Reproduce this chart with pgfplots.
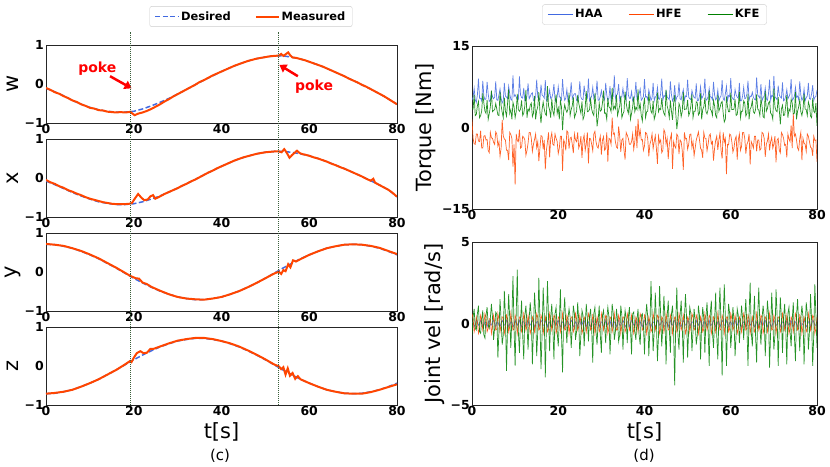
\documentclass[border=0pt]{standalone}
\usepackage{fontspec}
\setmainfont{DejaVu Sans}
\usepackage{pgfplots}
\usepackage{pgfplotstable}
\pgfplotsset{compat=1.18}
\usetikzlibrary{arrows.meta}

\definecolor{royal}{HTML}{4169E1}
\definecolor{orred}{HTML}{FF4500}
\definecolor{kgreen}{HTML}{008000}
\definecolor{vline}{HTML}{3A5F3A}

% t  HAA  HFE  KFE  (joint torque, Nm)
\pgfplotstableread{
t HAA HFE KFE
0.0 5.0 1.5 3.5
0.25 5.6 -2.0 3.4
0.5 7.2 -3.0 6.0
0.75 5.1 -3.1 2.2
1.0 4.6 -1.2 2.4
1.25 6.0 -1.2 4.0
1.5 9.0 -2.5 4.8
1.75 5.4 -2.6 1.8
2.0 5.4 -0.6 2.2
2.25 4.9 -3.8 3.0
2.5 8.6 -3.8 6.3
2.75 5.8 -1.6 4.5
3.0 5.1 -1.5 3.0
3.25 5.3 -2.3 2.6
3.5 8.4 -2.2 5.1
3.75 6.2 -4.2 1.5
4.0 4.8 -4.6 2.5
4.25 5.0 -0.9 3.8
4.5 6.5 -1.9 6.8
4.75 5.7 -2.0 2.9
5.0 5.3 -2.7 3.1
5.25 5.6 -3.1 3.3
5.5 8.5 -0.8 4.4
5.75 5.1 -1.2 3.4
6.0 5.0 -3.4 2.3
6.25 6.0 -2.6 2.2
6.5 7.1 -5.3 6.6
6.75 5.4 -3.8 4.0
7.0 4.5 1.4 2.8
7.25 4.9 -1.6 1.8
7.5 8.2 -2.1 5.5
7.75 5.8 -2.3 3.0
8.0 5.6 -4.2 2.1
8.25 5.3 -4.2 4.5
8.5 7.6 -6.0 7.0
8.75 6.2 -0.9 2.6
9.0 5.2 -1.3 3.3
9.25 5.0 -2.0 1.5
9.5 9.6 -7.2 4.6
9.75 5.7 -3.1 3.8
10.0 6.0 -10.5 1.8
10.25 5.6 -1.2 2.9
10.5 5.1 -2.4 6.2
10.75 5.1 -2.6 3.3
11.0 9.4 -0.4 3.0
11.25 6.0 -3.8 3.4
11.5 5.5 -3.6 5.0
11.75 5.4 -1.6 2.2
12.0 7.3 -1.8 2.6
12.25 4.9 -2.3 4.0
12.5 5.0 -5.1 6.9
12.75 5.8 -4.2 1.8
13.0 8.1 -2.9 3.4
13.25 5.3 -0.9 3.0
13.5 5.7 -0.9 4.1
13.75 6.2 -2.0 4.5
14.0 6.4 -4.4 2.0
14.25 5.0 -3.1 2.6
14.5 4.9 -2.2 5.8
14.75 5.7 -1.2 1.5
15.0 8.8 -3.7 3.1
15.25 5.6 -2.6 3.8
15.5 5.3 -6.2 6.5
15.75 5.1 -3.8 2.9
16.0 7.9 -1.5 0.8
16.25 6.0 -1.6 3.3
16.5 5.8 -4.0 4.7
16.75 5.4 -2.3 3.4
17.0 8.7 -7.7 2.5
17.25 4.9 -4.2 2.2
17.5 5.2 -2.6 7.6
17.75 5.8 -0.9 4.0
18.0 6.9 -5.5 3.2
18.25 5.3 -2.0 1.8
18.5 5.5 -1.0 5.3
18.75 6.2 -3.1 3.0
19.0 8.0 -3.3 2.2
19.25 5.0 -1.2 4.5
19.5 4.8 -2.0 6.1
19.75 5.7 -2.6 2.6
20.0 7.5 -4.8 3.6
20.25 5.6 -3.8 1.5
20.5 5.6 -1.6 5.0
20.75 5.1 -1.6 3.8
21.0 8.9 -8.0 -0.5
21.25 6.0 -2.3 2.9
21.5 5.0 -2.8 4.2
21.75 5.4 -4.2 3.3
22.0 7.0 -0.6 2.8
22.25 4.9 -0.9 3.4
22.5 5.4 -3.9 6.4
22.75 5.8 -2.0 2.2
23.0 8.3 -1.8 3.3
23.25 5.3 -3.1 4.0
23.5 5.9 -4.7 5.6
23.75 6.2 -1.2 1.8
24.0 6.2 -2.3 2.4
24.25 5.0 -2.6 3.0
24.5 4.9 -0.9 6.0
24.75 5.7 -3.8 4.5
25.0 8.5 -3.2 3.5
25.25 5.6 -1.6 2.6
25.5 5.2 -5.6 4.8
25.75 5.1 -2.3 1.5
26.0 7.7 -1.4 2.1
26.25 6.0 -4.2 3.8
26.5 5.7 -3.0 6.7
26.75 5.4 -0.9 2.9
27.0 9.0 -6.6 3.0
27.25 4.9 -2.0 3.3
27.5 5.3 -2.1 5.2
27.75 5.8 -3.1 3.4
28.0 7.4 -4.3 2.6
28.25 5.3 -1.2 2.2
28.5 5.8 -0.7 6.3
28.75 6.2 -2.6 4.0
29.0 8.6 -3.5 0.2
29.25 5.0 -3.8 1.8
29.5 5.1 -2.5 4.5
29.75 5.7 -1.6 3.0
30.0 6.8 -5.0 3.2
30.25 5.6 -2.3 4.5
30.5 5.6 -1.7 6.8
30.75 5.1 -4.2 2.6
31.0 8.2 -3.9 2.7
31.25 6.0 -0.9 1.5
31.5 5.0 -6.3 5.4
31.75 5.4 -2.0 3.8
32.0 7.6 -2.2 3.6
32.25 4.9 -3.1 2.9
32.5 6.1 1.8 7.3
32.75 5.8 -1.2 3.3
33.0 9.6 -1.0 3.9
33.25 5.3 -2.6 3.4
33.5 5.9 -3.6 6.0
33.75 6.2 -3.8 2.2
34.0 8.0 0.2 3.1
34.25 5.0 -1.6 4.0
34.5 5.5 -4.5 5.8
34.75 5.7 -2.3 1.8
35.0 7.2 -2.0 2.5
35.25 5.6 -4.2 3.0
35.5 6.0 -5.9 6.6
35.75 5.1 -0.9 4.5
36.0 9.1 -1.4 3.3
36.25 6.0 -2.0 2.6
36.5 5.4 -3.1 4.9
36.75 5.4 -3.1 1.5
37.0 6.6 -2.6 2.6
37.25 4.9 -1.2 3.8
37.5 5.2 -4.0 5.7
37.75 5.8 -2.6 2.9
38.0 8.4 0.3 3.7
38.25 5.3 -3.8 3.3
38.5 5.8 1.6 7.0
38.75 6.2 -1.6 3.4
39.0 7.1 -0.5 4.3
39.25 5.0 -2.3 2.2
39.5 5.3 -2.2 1.2
39.75 5.7 -4.2 4.0
40.0 8.9 -3.4 5.5
40.25 5.6 -0.9 1.8
40.5 5.7 -1.1 2.9
40.75 5.1 -2.0 3.0
41.0 6.9 -5.3 6.2
41.25 6.0 -3.1 4.5
41.5 5.0 -2.4 3.0
41.75 5.4 -1.2 2.6
42.0 8.2 -3.9 4.9
42.25 4.9 -2.6 1.5
42.5 5.6 -1.5 2.2
42.75 5.8 -3.8 3.8
43.0 7.4 -6.7 6.4
43.25 5.3 -1.6 2.9
43.5 5.2 -2.8 3.5
43.75 6.2 -2.3 3.3
44.0 9.0 -4.6 5.4
44.25 5.0 -4.2 3.4
44.5 5.9 -0.4 2.6
44.75 5.7 -0.9 2.2
45.0 6.7 -3.1 6.9
45.25 5.6 -2.0 4.0
45.5 5.4 -5.8 3.2
45.75 5.1 -3.1 1.8
46.0 8.5 -2.0 5.0
46.25 6.0 -1.2 3.0
46.5 4.9 -7.6 1.4
46.75 5.4 -2.6 4.5
47.0 7.8 -3.4 6.0
47.25 4.9 -3.8 2.6
47.5 5.6 -1.2 -0.3
47.75 5.8 -1.6 1.5
48.0 8.3 -4.9 4.4
48.25 5.3 -2.3 3.8
48.5 5.1 -2.6 2.0
48.75 6.2 -4.2 2.9
49.0 7.0 -7.8 6.5
49.25 5.0 -0.9 3.3
49.5 5.8 -2.1 3.4
49.75 5.7 -2.0 3.4
50.0 8.8 -4.0 5.1
50.25 5.6 -3.1 2.2
50.5 5.3 -1.3 2.7
50.75 5.1 -1.2 4.0
51.0 6.8 -3.7 6.1
51.25 6.0 -2.6 1.8
51.5 5.5 -5.2 3.0
51.75 5.4 -3.8 3.0
52.0 8.1 -2.3 4.7
52.25 4.9 -1.6 4.5
52.5 5.0 -0.8 2.3
52.75 5.8 -2.3 2.6
53.0 7.5 -3.8 6.3
53.25 5.3 -4.2 1.5
53.5 5.7 -5.6 3.3
53.75 6.2 -0.9 3.8
54.0 9.0 -2.0 5.5
54.25 5.0 -2.0 2.9
54.5 5.2 -4.3 2.5
54.75 5.7 -3.1 3.3
55.0 7.2 -1.5 6.8
55.25 5.6 -1.2 3.4
55.5 5.6 -3.0 3.1
55.75 5.1 -2.6 2.2
56.0 8.4 -6.1 5.0
56.25 6.0 -3.8 4.0
56.5 5.1 -2.4 2.2
56.75 5.4 -1.6 1.8
57.0 6.9 -4.1 6.0
57.25 4.9 -2.3 3.0
57.5 5.5 -1.0 3.6
57.75 5.8 -4.2 4.5
58.0 8.7 -5.7 4.8
58.25 5.3 -0.9 2.6
58.5 5.0 -2.7 1.0
58.75 6.2 -2.0 1.5
59.0 7.6 -8.6 5.7
59.25 5.0 -3.1 3.8
59.5 5.9 -3.2 2.9
59.75 5.7 -1.2 2.9
60.0 9.1 -1.4 6.4
60.25 5.6 -2.6 3.3
60.5 5.3 -4.5 3.3
60.75 5.1 -3.8 3.4
61.0 7.0 -2.2 5.2
61.25 6.0 -1.6 2.2
61.5 5.6 -5.9 2.4
61.75 5.4 -2.3 4.0
62.0 8.2 -1.2 6.6
62.25 4.9 -4.2 1.8
62.5 4.9 -3.5 3.0
62.75 5.8 -0.9 3.0
63.0 7.4 -0.9 4.9
63.25 5.3 -2.0 4.5
63.5 5.4 -4.8 2.1
63.75 6.2 -3.1 2.6
64.0 8.6 -2.6 6.2
64.25 5.0 -1.2 1.5
64.5 5.8 -6.8 3.4
64.75 5.7 -2.6 3.8
65.0 6.5 -3.1 5.0
65.25 5.6 -3.8 2.9
65.5 5.2 -1.6 2.6
65.75 5.1 -1.6 3.3
66.0 9.2 -4.4 6.1
66.25 6.0 -2.3 3.4
66.5 5.7 -2.3 3.2
66.75 5.4 -4.2 2.2
67.0 8.0 -3.9 5.3
67.25 4.9 -0.9 4.0
67.5 5.5 -1.1 2.0
67.75 5.8 -2.0 1.8
68.0 7.3 -5.4 6.7
68.25 5.3 -3.1 3.0
68.5 5.0 -2.5 3.5
68.75 6.2 -1.2 4.5
69.0 8.8 -4.2 4.8
69.25 5.0 -2.6 2.6
69.5 5.9 -1.8 2.4
69.75 5.7 -3.8 1.5
70.0 9.5 -3.0 7.2
70.25 5.6 -1.6 3.8
70.5 5.4 -6.4 3.1
70.75 5.1 -2.3 2.9
71.0 7.7 -2.0 5.6
71.25 6.0 -4.2 3.3
71.5 5.6 -4.7 0.6
71.75 5.4 -0.9 3.4
72.0 8.3 -1.3 4.1
72.25 4.9 -2.0 2.2
72.5 5.1 -3.3 2.3
72.75 5.8 -3.1 4.0
73.0 7.0 -5.5 6.0
73.25 5.3 -1.2 1.8
73.5 5.7 -2.1 3.4
73.75 6.2 -2.6 3.0
74.0 8.9 0.4 5.2
74.25 5.0 -3.8 4.5
74.5 5.3 2.6 2.5
74.75 5.7 -1.6 2.6
75.0 7.4 -1.2 6.5
75.25 5.6 -2.3 1.5
75.5 5.8 -3.8 3.0
75.75 5.1 -4.2 3.8
76.0 8.5 -2.0 5.1
76.25 6.0 -0.9 2.9
76.5 5.0 -6.0 2.2
76.75 5.4 -2.0 3.3
77.0 7.1 -2.9 6.2
77.25 4.9 -3.1 3.4
77.5 5.5 -4.4 3.3
77.75 5.8 -1.2 2.2
78.0 8.2 -1.6 4.7
78.25 5.3 -2.6 4.0
78.5 5.2 -3.6 2.1
78.75 6.2 -3.8 1.8
79.0 7.8 -5.2 5.4
79.25 5.0 -1.6 3.0
79.5 5.6 -2.4 2.7
79.75 5.7 -2.3 4.5
80.0 6.9 -6.3 0.3
}\torque

% t  HAA  HFE  KFE  (joint velocity, rad/s)
\pgfplotstableread{
t HAA HFE KFE
0.0 0.1 0.6 -0.7
0.25 0.05 0.3 0.4
0.5 -0.2 -0.5 0.9
0.75 -0.08 -0.2 -0.3
1.0 0.2 0.4 -0.4
1.25 0.12 0.1 0.6
1.5 -0.1 -0.6 1.1
1.75 -0.03 -0.35 -0.5
2.0 0.2 0.5 -0.6
2.25 0.09 0.25 0.2
2.5 -0.2 -0.4 0.8
2.75 -0.11 -0.1 -0.7
3.0 0.1 0.6 -0.9
3.25 0.02 0.4 0.5
3.5 -0.2 -0.5 1.0
3.75 0.05 -0.3 -0.1
4.0 0.2 0.3 -0.3
4.25 -0.08 0.3 0.3
4.5 -0.1 -0.6 1.2
4.75 0.12 -0.2 0.4
5.0 0.2 0.5 -1.0
5.25 -0.03 0.1 -0.3
5.5 -0.2 -0.4 0.7
5.75 0.09 -0.35 0.6
6.0 0.1 0.6 -2.1
6.25 -0.11 0.25 -0.5
6.5 -0.2 -0.5 1.5
6.75 0.02 -0.1 0.2
7.0 0.2 0.4 -1.3
7.25 0.05 0.4 -0.7
7.5 -0.1 -0.6 2.0
7.75 -0.08 -0.3 0.5
8.0 0.2 0.5 -2.9
8.25 0.12 0.3 -0.1
8.5 -0.2 -0.5 1.8
8.75 -0.03 -0.2 0.3
9.0 0.1 0.6 -1.5
9.25 0.09 0.1 0.4
9.5 -0.2 -0.4 2.9
9.75 -0.11 -0.35 -0.3
10.0 0.2 0.5 -2.6
10.25 0.02 0.25 0.6
10.5 -0.1 -0.6 3.3
10.75 0.05 -0.1 -0.5
11.0 0.2 0.4 -1.8
11.25 -0.08 0.4 0.2
11.5 -0.2 -0.5 1.4
11.75 0.12 -0.3 -0.7
12.0 0.1 0.6 -2.2
12.25 -0.03 0.3 0.5
12.5 -0.2 -0.4 1.1
12.75 0.09 -0.2 -0.1
13.0 0.2 0.5 -1.6
13.25 -0.11 0.1 0.3
13.5 -0.1 -0.6 1.3
13.75 0.02 -0.35 0.4
14.0 0.2 0.4 -2.5
14.25 0.05 0.25 -0.3
14.5 -0.2 -0.5 1.9
14.75 -0.08 -0.1 0.6
15.0 0.1 0.6 -2.0
15.25 0.12 0.4 -0.5
15.5 -0.2 -0.4 2.8
15.75 -0.03 -0.3 0.2
16.0 0.2 0.5 -2.8
16.25 0.09 0.3 -0.7
16.5 -0.1 -0.6 2.2
16.75 -0.11 -0.2 0.5
17.0 0.2 0.4 -3.3
17.25 0.02 0.1 -0.1
17.5 -0.2 -0.5 2.6
17.75 0.05 -0.35 0.3
18.0 0.1 0.6 -1.7
18.25 -0.08 0.25 0.4
18.5 -0.2 -0.4 1.2
18.75 0.12 -0.1 -0.3
19.0 0.2 0.5 -2.2
19.25 -0.03 0.4 0.6
19.5 -0.1 -0.6 1.0
19.75 0.09 -0.3 -0.5
20.0 0.2 0.4 -1.4
20.25 -0.11 0.3 0.2
20.5 -0.2 -0.5 2.1
20.75 0.02 -0.2 -0.7
21.0 0.1 0.6 -3.0
21.25 0.05 0.1 0.5
21.5 -0.2 -0.4 1.6
21.75 -0.08 -0.35 -0.1
22.0 0.2 0.5 -1.2
22.25 0.12 0.25 0.3
22.5 -0.1 -0.6 0.9
22.75 -0.03 -0.1 0.4
23.0 0.2 0.4 -1.5
23.25 0.09 0.4 -0.3
23.5 -0.2 -0.5 1.1
23.75 -0.11 -0.3 0.6
24.0 0.1 0.6 -1.0
24.25 0.02 0.3 -0.5
24.5 -0.2 -0.4 1.3
24.75 0.05 -0.2 0.2
25.0 0.2 0.5 -2.0
25.25 -0.08 0.1 -0.7
25.5 -0.1 -0.6 0.8
25.75 0.12 -0.35 0.5
26.0 0.2 0.4 -1.4
26.25 -0.03 0.25 -0.1
26.5 -0.2 -0.5 1.2
26.75 0.09 -0.1 0.3
27.0 0.1 0.6 -1.1
27.25 -0.11 0.4 0.4
27.5 -0.2 -0.4 0.9
27.75 0.02 -0.3 -0.3
28.0 0.2 0.5 -2.4
28.25 0.05 0.3 0.6
28.5 -0.1 -0.6 1.0
28.75 -0.08 -0.2 -0.5
29.0 0.2 0.4 -1.3
29.25 0.12 0.1 0.2
29.5 -0.2 -0.5 1.1
29.75 -0.03 -0.35 -0.7
30.0 0.1 0.6 -1.8
30.25 0.09 0.25 0.5
30.5 -0.2 -0.4 0.8
30.75 -0.11 -0.1 -0.1
31.0 0.2 0.5 -1.2
31.25 0.02 0.4 0.3
31.5 -0.1 -0.6 1.0
31.75 0.05 -0.3 0.4
32.0 0.2 0.4 -1.9
32.25 -0.08 0.3 -0.3
32.5 -0.2 -0.5 1.2
32.75 0.12 -0.2 0.6
33.0 0.1 0.6 -1.0
33.25 -0.03 0.1 -0.5
33.5 -0.2 -0.4 0.9
33.75 0.09 -0.35 0.2
34.0 0.2 0.5 -1.1
34.25 -0.11 0.25 -0.7
34.5 -0.1 -0.6 1.1
34.75 0.02 -0.1 0.5
35.0 0.2 0.4 -1.6
35.25 0.05 0.4 -0.1
35.5 -0.2 -0.5 0.8
35.75 -0.08 -0.3 0.3
36.0 0.1 0.6 -1.2
36.25 0.12 0.3 0.4
36.5 -0.2 -0.4 1.0
36.75 -0.03 -0.2 -0.3
37.0 0.2 0.5 -1.9
37.25 0.09 0.1 0.6
37.5 -0.1 -0.6 0.7
37.75 -0.11 -0.35 -0.5
38.0 0.2 0.4 -1.0
38.25 0.02 0.25 0.2
38.5 -0.2 -0.5 0.9
38.75 0.05 -0.1 -0.7
39.0 0.1 0.6 -1.3
39.25 -0.08 0.4 0.5
39.5 -0.2 -0.4 0.6
39.75 0.12 -0.3 -0.1
40.0 0.2 0.5 -1.9
40.25 -0.03 0.3 0.3
40.5 -0.1 -0.6 1.2
40.75 0.09 -0.2 0.4
41.0 0.2 0.4 -2.0
41.25 -0.11 0.1 -0.3
41.5 -0.2 -0.5 2.6
41.75 0.02 -0.35 0.6
42.0 0.1 0.6 -1.7
42.25 0.05 0.25 -0.5
42.5 -0.2 -0.4 1.9
42.75 -0.08 -0.1 0.2
43.0 0.2 0.5 -2.3
43.25 0.12 0.4 -0.7
43.5 -0.1 -0.6 2.3
43.75 -0.03 -0.3 0.5
44.0 0.2 0.4 -1.4
44.25 0.09 0.3 -0.1
44.5 -0.2 -0.5 1.7
44.75 -0.11 -0.2 0.3
45.0 0.1 0.6 -2.5
45.25 0.02 0.1 0.4
45.5 -0.2 -0.4 1.4
45.75 0.05 -0.35 -0.3
46.0 0.2 0.5 -1.8
46.25 -0.08 0.25 0.6
46.5 -0.1 -0.6 1.1
46.75 0.12 -0.1 -0.5
47.0 0.2 0.4 -3.8
47.25 -0.03 0.4 0.2
47.5 -0.2 -0.5 2.2
47.75 0.09 -0.3 -0.7
48.0 0.1 0.6 -1.6
48.25 -0.11 0.3 0.5
48.5 -0.2 -0.4 1.4
48.75 0.02 -0.2 -0.1
49.0 0.2 0.5 -2.4
49.25 0.05 0.1 0.3
49.5 -0.1 -0.6 1.8
49.75 -0.08 -0.35 0.4
50.0 0.2 0.4 -2.1
50.25 0.12 0.25 -0.3
50.5 -0.2 -0.5 1.0
50.75 -0.03 -0.1 0.6
51.0 0.1 0.6 -1.7
51.25 0.09 0.4 -0.5
51.5 -0.2 -0.4 0.9
51.75 -0.11 -0.3 0.2
52.0 0.2 0.5 -1.3
52.25 0.02 0.3 -0.7
52.5 -0.1 -0.6 1.1
52.75 0.05 -0.2 0.5
53.0 0.2 0.4 -2.2
53.25 -0.08 0.1 -0.1
53.5 -0.2 -0.5 1.0
53.75 0.12 -0.35 0.3
54.0 0.1 0.6 -1.8
54.25 -0.03 0.25 0.4
54.5 -0.2 -0.4 1.3
54.75 0.09 -0.1 -0.3
55.0 0.2 0.5 -2.6
55.25 -0.11 0.4 0.6
55.5 -0.1 -0.6 1.4
55.75 0.02 -0.3 -0.5
56.0 0.2 0.4 -1.5
56.25 0.05 0.3 0.2
56.5 -0.2 -0.5 1.9
56.75 -0.08 -0.2 -0.7
57.0 0.1 0.6 -2.2
57.25 0.12 0.1 0.5
57.5 -0.2 -0.4 2.2
57.75 -0.03 -0.35 -0.1
58.0 0.2 0.5 -3.2
58.25 0.09 0.25 0.3
58.5 -0.1 -0.6 2.4
58.75 -0.11 -0.1 0.4
59.0 0.2 0.4 -2.6
59.25 0.02 0.4 -0.3
59.5 -0.2 -0.5 1.2
59.75 0.05 -0.3 0.6
60.0 0.1 0.6 -1.5
60.25 -0.08 0.3 -0.5
60.5 -0.2 -0.4 1.0
60.75 0.12 -0.2 0.2
61.0 0.2 0.5 -2.0
61.25 -0.03 0.1 -0.7
61.5 -0.1 -0.6 0.9
61.75 0.09 -0.35 0.5
62.0 0.2 0.4 -1.2
62.25 -0.11 0.25 -0.1
62.5 -0.2 -0.5 1.1
62.75 0.02 -0.1 0.3
63.0 0.1 0.6 -1.0
63.25 0.05 0.4 0.4
63.5 -0.2 -0.4 1.5
63.75 -0.08 -0.3 -0.3
64.0 0.2 0.5 -2.6
64.25 0.12 0.3 0.6
64.5 -0.1 -0.6 2.5
64.75 -0.03 -0.2 -0.5
65.0 0.2 0.4 -1.4
65.25 0.09 0.1 0.2
65.5 -0.2 -0.5 1.7
65.75 -0.11 -0.35 -0.7
66.0 0.1 0.6 -2.4
66.25 0.02 0.25 0.5
66.5 -0.2 -0.4 2.2
66.75 0.05 -0.1 -0.1
67.0 0.2 0.5 -1.3
67.25 -0.08 0.4 0.3
67.5 -0.1 -0.6 1.1
67.75 0.12 -0.3 0.4
68.0 0.2 0.4 -2.0
68.25 -0.03 0.3 -0.3
68.5 -0.2 -0.5 1.4
68.75 0.09 -0.2 0.6
69.0 0.1 0.6 -2.7
69.25 -0.11 0.1 -0.5
69.5 -0.2 -0.4 1.9
69.75 0.02 -0.35 0.2
70.0 0.2 0.5 -1.6
70.25 0.05 0.25 -0.7
70.5 -0.1 -0.6 2.1
70.75 -0.08 -0.1 0.5
71.0 0.2 0.4 -2.6
71.25 0.12 0.4 -0.1
71.5 -0.2 -0.5 1.6
71.75 -0.03 -0.3 0.3
72.0 0.1 0.6 -1.8
72.25 0.09 0.3 0.4
72.5 -0.2 -0.4 1.2
72.75 -0.11 -0.2 -0.3
73.0 0.2 0.5 -2.5
73.25 0.02 0.1 0.6
73.5 -0.1 -0.6 1.0
73.75 0.05 -0.35 -0.5
74.0 0.2 0.4 -1.4
74.25 -0.08 0.25 0.2
74.5 -0.2 -0.5 1.3
74.75 0.12 -0.1 -0.7
75.0 0.1 0.6 -2.3
75.25 -0.03 0.4 0.5
75.5 -0.2 -0.4 1.5
75.75 0.09 -0.3 -0.1
76.0 0.2 0.5 -1.7
76.25 -0.11 0.3 0.3
76.5 -0.1 -0.6 1.1
76.75 0.02 -0.2 0.4
77.0 0.2 0.4 -2.5
77.25 0.05 0.1 -0.3
77.5 -0.2 -0.5 1.3
77.75 -0.08 -0.35 0.6
78.0 0.1 0.6 -1.6
78.25 0.12 0.25 -0.5
78.5 -0.2 -0.4 1.8
78.75 -0.03 -0.1 0.2
79.0 0.2 0.5 -2.6
79.25 0.09 0.4 -0.7
79.5 -0.1 -0.6 2.4
79.75 -0.11 -0.3 0.5
80.0 0.2 0.4 -1.5
}\jointvel

\pgfplotsset{
  panel/.style={
    scale only axis, anchor=south west,
    xmin=0, xmax=80, xtick={0,20,40,60,80},
    major tick length=0pt,
    axis line style={black!85, line width=0.8pt},
    /pgf/number format/assume math mode=true,
    tick label style={font=\bfseries\fontsize{12.5}{12.5}\selectfont},
    label style={font=\fontsize{21}{21}\selectfont},
    xticklabel style={inner sep=1.5pt},
    yticklabel style={inner sep=2pt},
  },
  quat/.style={panel, width=351bp, height=78bp,
    ymin=-1, ymax=1, ytick={-1,0,1}, yticklabels={−1,0,1},
    ylabel style={at={(axis description cs:-0.094,0.5)}, anchor=center}},
  des/.style={royal, line width=1.5pt, dash pattern=on 5pt off 2.5pt},
  mea/.style={orred, line width=2pt},
  tq/.style={line width=0.7pt, opacity=0.85},
}

\begin{document}
\begin{tikzpicture}
\useasboundingbox (0bp,0bp) rectangle (830bp,-467bp);

% ---- (c) quaternion tracking ----
\begin{axis}[quat, at={(46bp,-123bp)}, ylabel={w},
  legend style={at={(axis description cs:0.584,1.365)}, anchor=center,
    legend columns=2, draw=black!20, rounded corners=2pt,
    font=\bfseries\fontsize{11.5}{11.5}\selectfont, inner xsep=5pt, inner ysep=3pt,
    /tikz/every even column/.append style={column sep=22pt}},
  legend image code/.code={\draw[#1] (0bp,0bp) -- (23bp,0bp);}]
\addplot[des] coordinates {(0,-0.11) (2,-0.20) (4,-0.30) (6,-0.42) (8,-0.52) (10,-0.60)
 (12,-0.66) (14,-0.70) (16,-0.72) (18,-0.72) (20,-0.70) (22,-0.64) (24,-0.56) (26,-0.47)
 (28,-0.37) (30,-0.26) (32,-0.14) (34,-0.02) (36,0.10) (38,0.21) (40,0.32) (42,0.42)
 (44,0.51) (46,0.59) (48,0.65) (50,0.69) (52,0.72) (54,0.72) (56,0.69) (58,0.64)
 (60,0.57) (62,0.49) (64,0.40) (66,0.30) (68,0.20) (70,0.09) (72,-0.02) (74,-0.13)
 (76,-0.25) (78,-0.38) (80,-0.52)};
\addlegendentry{Desired}
\addplot[mea] coordinates {(0,-0.10) (1,-0.15) (2,-0.21) (3,-0.25) (4,-0.31) (5,-0.36)
 (6,-0.42) (7,-0.46) (8,-0.52) (9,-0.56) (10,-0.61) (11,-0.63) (12,-0.67) (13,-0.68)
 (14,-0.71) (15,-0.72) (16,-0.73) (17,-0.72) (18,-0.73) (19,-0.72) (19.2,-0.71)
 (19.6,-0.75) (20.2,-0.80) (21,-0.76) (22,-0.73) (23,-0.69) (24,-0.64) (25,-0.58)
 (26,-0.52) (27,-0.45) (28,-0.39) (29,-0.32) (30,-0.26) (31,-0.20) (32,-0.14) (33,-0.08)
 (34,-0.02) (35,0.05) (36,0.10) (37,0.16) (38,0.22) (39,0.27) (40,0.32) (41,0.37)
 (42,0.42) (43,0.47) (44,0.51) (45,0.55) (46,0.59) (47,0.62) (48,0.65) (49,0.67)
 (50,0.69) (51,0.71) (52,0.72) (53.1,0.73) (53.6,0.77) (54.1,0.72) (54.6,0.76)
 (55.2,0.81) (55.7,0.73) (56.2,0.68) (57,0.67) (58,0.64) (59,0.61) (60,0.57) (61,0.53)
 (62,0.49) (63,0.45) (64,0.40) (65,0.35) (66,0.30) (67,0.25) (68,0.20) (69,0.14)
 (70,0.09) (71,0.04) (72,-0.02) (73,-0.07) (74,-0.13) (75,-0.19) (76,-0.25) (77,-0.31)
 (78,-0.38) (79,-0.45) (80,-0.52)};
\addlegendentry{Measured}
\node[red, font=\bfseries\fontsize{14}{14}\selectfont] at (axis cs:11.7,0.39) {poke};
\draw[red, line width=2.5pt, -{Triangle[width=9pt,length=7pt]}] (axis cs:14.6,0.2) -- (axis cs:19.5,-0.11);
\node[red, font=\bfseries\fontsize{14}{14}\selectfont] at (axis cs:61.1,-0.06) {poke};
\draw[red, line width=2.5pt, -{Triangle[width=9pt,length=7pt]}] (axis cs:57.4,0.2) -- (axis cs:53.2,0.49);
\end{axis}

\begin{axis}[quat, at={(46bp,-217bp)}, ylabel={x}]
\addplot[des] coordinates {(0,-0.08) (2,-0.17) (4,-0.27) (6,-0.37) (8,-0.46) (10,-0.54)
 (12,-0.61) (14,-0.65) (16,-0.68) (18,-0.68) (20,-0.66) (22,-0.61) (24,-0.54) (26,-0.46)
 (28,-0.36) (30,-0.26) (32,-0.15) (34,-0.04) (36,0.08) (38,0.19) (40,0.30) (42,0.40)
 (44,0.49) (46,0.56) (48,0.62) (50,0.66) (52,0.68) (54,0.68) (56,0.66) (58,0.62)
 (60,0.57) (62,0.50) (64,0.42) (66,0.33) (68,0.24) (70,0.14) (72,0.04) (74,-0.07)
 (76,-0.18) (78,-0.30) (80,-0.48)};
\addplot[mea] coordinates {(0,-0.05) (1,-0.11) (2,-0.15) (3,-0.21) (4,-0.25) (5,-0.31)
 (6,-0.35) (7,-0.40) (8,-0.44) (9,-0.49) (10,-0.53) (11,-0.56) (12,-0.59) (13,-0.62)
 (14,-0.64) (15,-0.66) (16,-0.67) (17,-0.67) (18,-0.67) (19,-0.66) (19.6,-0.64)
 (20.3,-0.52) (21,-0.41) (21.7,-0.50) (22.4,-0.57) (23.2,-0.55) (23.8,-0.47) (24.4,-0.44)
 (24.9,-0.53) (25.5,-0.50) (26,-0.47) (27,-0.41) (28,-0.36) (29,-0.31) (30,-0.26)
 (31,-0.20) (32,-0.15) (33,-0.09) (34,-0.04) (35,0.02) (36,0.08) (37,0.14) (38,0.19)
 (39,0.25) (40,0.30) (41,0.35) (42,0.40) (43,0.45) (44,0.49) (45,0.53) (46,0.56)
 (47,0.59) (48,0.62) (49,0.64) (50,0.66) (51,0.67) (52,0.68) (53.1,0.68) (53.7,0.66)
 (54.3,0.74) (54.8,0.66) (55.5,0.52) (56.1,0.59) (56.6,0.64) (57.2,0.70) (57.8,0.64)
 (58.5,0.61) (59,0.60) (60,0.57) (61,0.53) (62,0.50) (63,0.46) (64,0.42) (65,0.37)
 (66,0.33) (67,0.28) (68,0.24) (69,0.19) (70,0.14) (71,0.09) (72,0.04) (73,-0.02)
 (74,-0.07) (74.6,-0.02) (75,-0.12) (76,-0.18) (77,-0.24) (78,-0.30) (79,-0.38) (80,-0.48)};
\end{axis}

\begin{axis}[quat, at={(46bp,-311bp)}, ylabel={y}]
\addplot[des] coordinates {(0,0.71) (2,0.70) (4,0.66) (6,0.61) (8,0.53) (10,0.44)
 (12,0.34) (14,0.22) (16,0.10) (18,-0.03) (20,-0.16) (22,-0.28) (24,-0.39) (26,-0.49)
 (28,-0.57) (30,-0.64) (32,-0.68) (34,-0.71) (36,-0.71) (38,-0.68) (40,-0.64) (42,-0.57)
 (44,-0.49) (46,-0.39) (48,-0.28) (50,-0.16) (52,-0.03) (54,0.10) (56,0.22) (58,0.34)
 (60,0.44) (62,0.53) (64,0.61) (66,0.66) (68,0.70) (70,0.71) (72,0.70) (74,0.66)
 (76,0.61) (78,0.53) (80,0.44)};
\addplot[mea] coordinates {(0,0.72) (2,0.70) (4,0.67) (6,0.61) (8,0.54) (10,0.45)
 (12,0.35) (14,0.23) (16,0.11) (18,-0.02) (19.2,-0.10) (19.8,-0.13) (20.5,-0.16)
 (21.2,-0.17) (22,-0.27) (23,-0.31) (24,-0.38) (26,-0.48) (28,-0.57) (30,-0.64)
 (32,-0.68) (34,-0.70) (36,-0.71) (38,-0.68) (40,-0.64) (42,-0.57) (44,-0.49) (46,-0.39)
 (48,-0.28) (50,-0.16) (52,-0.04) (53.1,0.01) (53.6,-0.05) (54.1,0.05) (54.6,0.02)
 (55.2,0.20) (55.7,0.12) (56.3,0.30) (57,0.27) (58,0.33) (60,0.44) (62,0.53) (64,0.61)
 (66,0.66) (68,0.70) (70,0.71) (72,0.70) (74,0.67) (76,0.62) (78,0.54) (80,0.46)};
\end{axis}

\begin{axis}[quat, at={(46bp,-405bp)}, ylabel={z}, clip=false,
  xlabel={t[s]}, xlabel style={at={(axis description cs:0.5,-0.35)}, anchor=center}]
\addplot[des] coordinates {(0,-0.71) (2,-0.70) (4,-0.66) (6,-0.61) (8,-0.53) (10,-0.44)
 (12,-0.34) (14,-0.22) (16,-0.10) (18,0.03) (20,0.16) (22,0.28) (24,0.39) (26,0.49)
 (28,0.57) (30,0.64) (32,0.68) (34,0.71) (36,0.71) (38,0.68) (40,0.64) (42,0.57)
 (44,0.49) (46,0.39) (48,0.28) (50,0.16) (52,0.03) (54,-0.10) (56,-0.22) (58,-0.34)
 (60,-0.44) (62,-0.53) (64,-0.61) (66,-0.66) (68,-0.70) (70,-0.71) (72,-0.70) (74,-0.66)
 (76,-0.61) (78,-0.53) (80,-0.44)};
\addplot[mea] coordinates {(0,-0.71) (2,-0.69) (4,-0.66) (6,-0.61) (8,-0.53) (10,-0.44)
 (12,-0.34) (14,-0.22) (16,-0.10) (18,0.04) (19.2,0.13) (19.5,0.10) (20,0.21) (20.7,0.33)
 (21.5,0.38) (22.2,0.33) (23,0.34) (23.8,0.44) (24.5,0.44) (25,0.46) (26,0.50) (28,0.58)
 (30,0.65) (32,0.69) (34,0.72) (36,0.72) (38,0.69) (40,0.64) (42,0.58) (44,0.50)
 (46,0.40) (48,0.29) (50,0.17) (52,0.04) (53.1,-0.01) (53.6,-0.08) (54.1,-0.03)
 (54.6,-0.22) (55.1,-0.06) (55.6,-0.25) (56.2,-0.18) (56.8,-0.33) (57.4,-0.26) (58,-0.34)
 (60,-0.44) (62,-0.53) (64,-0.61) (66,-0.66) (68,-0.70) (70,-0.71) (72,-0.71) (74,-0.67)
 (76,-0.61) (78,-0.54) (80,-0.47)};
% poke instants, drawn through all four panels
\addplot[vline, densely dotted, line width=1pt] coordinates {(19.2,-1) (19.2,8.56)};
\addplot[vline, densely dotted, line width=1pt] coordinates {(53.1,-1) (53.1,8.56)};
\end{axis}

% ---- (d) joint torques and velocities ----
\begin{axis}[panel, width=345bp, height=163bp, at={(472bp,-209bp)},
  ymin=-15, ymax=15, ytick={-15,0,15}, yticklabels={−15,0,15},
  ylabel={Torque [Nm]}, ylabel style={at={(axis description cs:-0.133,0.5)}, anchor=center},
  legend style={at={(axis description cs:0.529,1.193)}, anchor=center,
    legend columns=3, draw=black!20, rounded corners=2pt,
    font=\bfseries\fontsize{11.5}{11.5}\selectfont, inner xsep=5pt, inner ysep=3pt,
    /tikz/every even column/.append style={column sep=24pt}},
  legend image code/.code={\draw[#1, opacity=1] (0bp,0bp) -- (25bp,0bp);}]
\addplot[tq, royal] table[x=t, y=HAA] {\torque};
\addlegendentry{HAA}
\addplot[tq, orred] table[x=t, y=HFE] {\torque};
\addlegendentry{HFE}
\addplot[tq, kgreen] table[x=t, y=KFE] {\torque};
\addlegendentry{KFE}
\end{axis}

\begin{axis}[panel, width=345bp, height=163bp, at={(472bp,-405bp)},
  ymin=-5, ymax=5, ytick={-5,0,5}, yticklabels={−5,0,5},
  ylabel={Joint vel [rad/s]}, ylabel style={at={(axis description cs:-0.107,0.5)}, anchor=center},
  xlabel={t[s]}, xlabel style={at={(axis description cs:0.5,-0.166)}, anchor=center}]
\addplot[tq, royal] table[x=t, y=HAA] {\jointvel};
\addplot[tq, orred] table[x=t, y=HFE] {\jointvel};
\addplot[tq, kgreen] table[x=t, y=KFE] {\jointvel};
\end{axis}

\node[font=\fontsize{15}{15}\selectfont] at (220bp,-456bp) {(c)};
\node[font=\fontsize{15}{15}\selectfont] at (644bp,-456bp) {(d)};
\end{tikzpicture}
\end{document}
